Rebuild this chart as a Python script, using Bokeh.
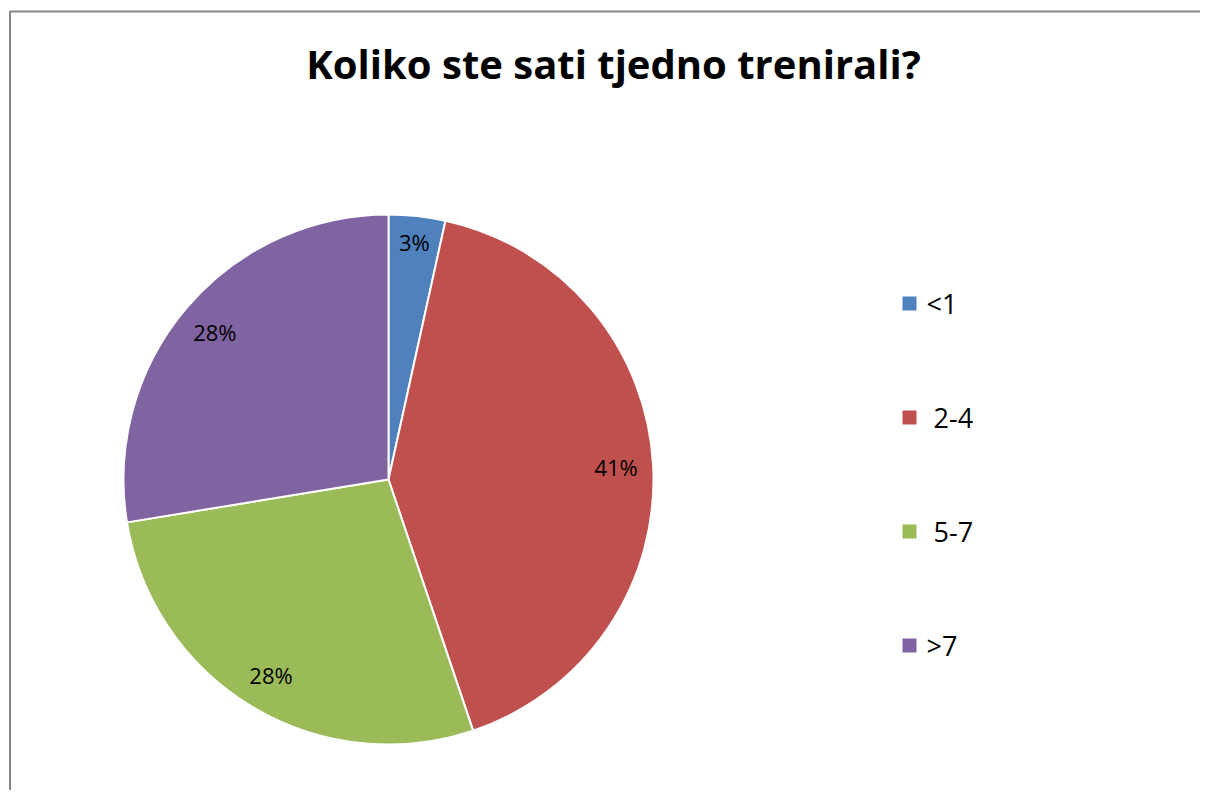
import math
from bokeh.plotting import figure
from bokeh.models import ColumnDataSource, Label
from bokeh.core.properties import value
from bokeh.embed import file_html
from bokeh.resources import INLINE

title_text = "Koliko ste sati tjedno trenirali?"
categories = ["<1", "\u00a02-4", "\u00a05-7", ">7"]
counts = [1, 12, 8, 8]
colors = ["#4F81BD", "#C0504D", "#9BBB59", "#8064A2"]

W, H = 1200, 790
p = figure(width=W, height=H, x_range=(0, W), y_range=(0, H),
           output_backend="svg", toolbar_location=None, min_border=0)
p.axis.visible = False
p.grid.visible = False
p.outline_line_color = None
p.background_fill_color = "white"

# chart border (only left and top edges fall inside the page)
p.quad(left=9.5, right=W + 100, top=H - 11, bottom=-100,
       fill_color=None, line_color="#868686", line_width=2)

cx, cy, R = 388, 311, 265
total = sum(counts)
starts, ends, lx, ly, pct = [], [], [], [], []
cum = 0.0
for c in counts:
    f0 = cum / total
    cum += c
    f1 = cum / total
    starts.append(math.pi / 2 - f0 * 2 * math.pi)
    ends.append(math.pi / 2 - f1 * 2 * math.pi)
    mid = math.pi / 2 - (f0 + f1) / 2 * 2 * math.pi
    k = 0.9 if c / total < 0.05 else 0.86
    lx.append(cx + k * R * math.cos(mid))
    ly.append(cy + k * R * math.sin(mid))
    pct.append(f"{round(100 * c / total)}%")

src = ColumnDataSource(dict(start=starts, end=ends, color=colors, lx=lx, ly=ly, pct=pct,
                            cat=categories,
                            gx=[909] * len(categories),
                            gy=[487 - 114 * i for i in range(len(categories))],
                            tx=[926] * len(categories)))

p.wedge(x=cx, y=cy, radius=R, start_angle="start", end_angle="end", direction="clock",
        fill_color="color", line_color="white", line_width=2, source=src)

p.text(x="lx", y="ly", text="pct", source=src, text_align="center", text_baseline="middle",
       text_font=value("Open Sans"), text_font_size="22px", text_color="black")

p.scatter(x="gx", y="gy", marker="square", size=14, fill_color="color", line_color=None, source=src)
p.text(x="tx", y="gy", text="cat", source=src, text_align="left", text_baseline="middle",
       text_font=value("Open Sans"), text_font_size="27px", text_color="black")

p.add_layout(Label(x=613, y=727, text=title_text, text_align="center", text_baseline="middle",
                   text_font="Open Sans", text_font_style="bold", text_font_size="40px",
                   text_color="black"))

open("out.html", "w").write(file_html(p, INLINE))
